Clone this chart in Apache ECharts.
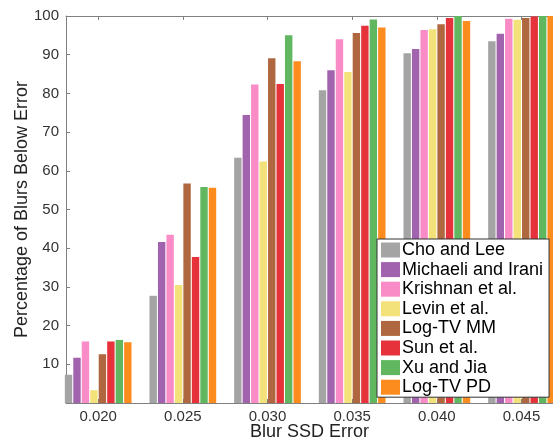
<!DOCTYPE html>
<html>
<head>
<meta charset="utf-8">
<script src="https://cdn.jsdelivr.net/npm/echarts@6/dist/echarts.min.js"></script>
<style>
html,body{margin:0;padding:0;background:#fff;}
#chart{width:553px;height:441px;}
</style>
</head>
<body>
<div id="chart"></div>
<script>
var categories = [0.020, 0.025, 0.030, 0.035, 0.040, 0.045];
var seriesNames = ['Cho and Lee', 'Michaeli and Irani', 'Krishnan et al.', 'Levin et al.', 'Log-TV MM', 'Sun et al.', 'Xu and Jia', 'Log-TV PD'];
var choLee      = [7.3, 27.7, 63.4, 80.8, 90.4, 93.5];
var michaeli    = [11.7, 41.6, 74.4, 86.0, 91.5, 95.4];
var krishnan    = [15.9, 43.5, 82.3, 94.0, 96.4, 99.3];
var levin       = [3.3, 30.5, 62.4, 85.5, 96.6, 99.0];
var logTvMM     = [12.6, 56.7, 89.1, 95.6, 97.9, 99.5];
var sun         = [15.9, 37.7, 82.4, 97.5, 99.5, 99.9];
var xuJia       = [16.3, 55.8, 95.0, 99.1, 100, 100];
var logTvPD     = [15.7, 55.6, 88.3, 97.0, 98.7, 100];
var yTicks = [10, 20, 30, 40, 50, 60, 70, 80, 90, 100];

var values = [choLee, michaeli, krishnan, levin, logTvMM, sun, xuJia, logTvPD];
var colors = ['#A4A4A4', '#A163AE', '#F98CC7', '#F3E279', '#AE673F', '#E6323A', '#60B760', '#FD8C1F'];

var chart = echarts.init(document.getElementById('chart'), null, {renderer: 'canvas'});
var FONT = 'Liberation Sans';
var axisGray = '#808080';

var series = seriesNames.map(function (name, i) {
  return {
    name: name,
    type: 'bar',
    xAxisIndex: 0,
    barWidth: 7.4,
    barGap: '14.5%',
    itemStyle: {color: colors[i]},
    data: categories.map(function (c, j) { return [c, values[i][j]]; })
  };
});

chart.setOption({
  animation: false,
  backgroundColor: '#fff',
  textStyle: {fontFamily: FONT},
  grid: {left: 66, right: 0, top: 16, bottom: 38, containLabel: false, outerBoundsMode: 'none'},
  xAxis: [{
    type: 'value',
    position: 'bottom',
    min: 0.0181,
    max: 0.04686,
    name: 'Blur SSD Error',
    nameLocation: 'middle',
    nameGap: 20,
    nameMoveOverlap: false,
    nameTextStyle: {fontSize: 18, color: '#222', fontFamily: FONT},
    axisLine: {show: true, onZero: false, lineStyle: {color: axisGray, width: 1}},
    axisTick: {show: true, inside: true, length: 4, customValues: categories, lineStyle: {color: axisGray}},
    axisLabel: {show: true, customValues: categories, fontSize: 15, color: '#333', margin: 6, fontFamily: FONT,
      formatter: function (v) { return Number(v).toFixed(3); }},
    splitLine: {show: false}
  }, {
    type: 'value',
    position: 'top',
    min: 0.0181,
    max: 0.04686,
    axisLine: {show: true, onZero: false, lineStyle: {color: axisGray, width: 1}},
    axisTick: {show: true, inside: true, length: 4, customValues: categories, lineStyle: {color: axisGray}},
    axisLabel: {show: false},
    splitLine: {show: false}
  }],
  yAxis: {
    type: 'value',
    min: 0,
    max: 100,
    interval: 10,
    name: 'Percentage of Blurs Below Error',
    nameLocation: 'middle',
    nameGap: 35,
    nameMoveOverlap: false,
    nameTextStyle: {fontSize: 18, color: '#222', fontFamily: FONT},
    axisLine: {show: true, lineStyle: {color: axisGray, width: 1}},
    axisTick: {show: true, inside: true, length: 4, customValues: yTicks, lineStyle: {color: axisGray}},
    axisLabel: {customValues: yTicks, fontSize: 15, color: '#333', margin: 7, fontFamily: FONT},
    splitLine: {show: false}
  },
  legend: {
    orient: 'vertical',
    left: 377,
    top: 239,
    padding: [2, 6, 1, 4],
    itemWidth: 19,
    itemHeight: 15,
    itemGap: 1.6,
    icon: 'rect',
    backgroundColor: '#fff',
    borderColor: '#333',
    borderWidth: 1,
    borderRadius: 0,
    textStyle: {fontSize: 18, color: '#000', fontFamily: FONT, lineHeight: 18, padding: [0, 0, 0, -3]},
    data: seriesNames
  },
  series: series
});
</script>
</body>
</html>
